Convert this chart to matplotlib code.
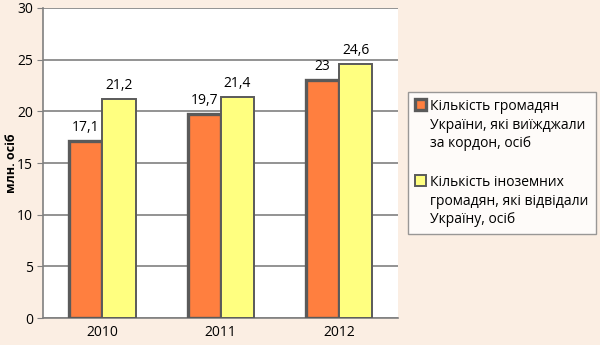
import matplotlib.pyplot as plt
import numpy as np

plt.rcParams['font.family'] = ['Open Sans', 'DejaVu Sans']

years = ['2010', '2011', '2012']
citizens_out = [17.1, 19.7, 23.0]
foreigners_in = [21.2, 21.4, 24.6]
labels_out = ['17,1', '19,7', '23']
labels_in = ['21,2', '21,4', '24,6']
legend_labels = ['Кількість громадян\nУкраїни, які виїжджали\nза кордон, осіб',
                 'Кількість іноземних\nгромадян, які відвідали\nУкраїну, осіб']

bg = '#FBEEE3'
orange = '#FF7F3F'
yellow = '#FFFF80'
grid_gray = '#808080'

fig = plt.figure(figsize=(6, 3.45), dpi=100, facecolor=bg)
ax = fig.add_axes([0.072, 0.078, 0.592, 0.899])
ax.set_facecolor('white')

x = np.arange(len(years))
w = 0.28
b1 = ax.bar(x - w / 2, citizens_out, w, color=orange, edgecolor='#5a5a5a', linewidth=2.4,
            label=legend_labels[0], zorder=3)
b2 = ax.bar(x + w / 2, foreigners_in, w, color=yellow, edgecolor='#5a5a5a', linewidth=1.4,
            label=legend_labels[1], zorder=3)

for bar, t in zip(b1, labels_out):
    ax.text(bar.get_x() + bar.get_width() / 2, bar.get_height() + 0.6, t,
            ha='center', va='bottom', fontsize=10, color='black')
for bar, t in zip(b2, labels_in):
    ax.text(bar.get_x() + bar.get_width() / 2, bar.get_height() + 0.6, t,
            ha='center', va='bottom', fontsize=10, color='black')

ax.set_xlim(-0.5, 2.5)
ax.set_ylim(0, 30)
ax.set_yticks(range(0, 31, 5))
ax.set_xticks(x)
ax.set_xticklabels(years)
ax.tick_params(axis='both', labelsize=10, color=grid_gray, length=4)
ax.tick_params(axis='x', length=0, pad=5)
ax.yaxis.grid(True, color=grid_gray, linewidth=1.2, zorder=0)
ax.set_axisbelow(True)
for s in ['top', 'right']:
    ax.spines[s].set_visible(False)
for s in ['left', 'bottom']:
    ax.spines[s].set_color(grid_gray)
    ax.spines[s].set_linewidth(1.2)
ax.set_ylabel('млн. осіб', fontsize=9, fontweight='bold')
ax.yaxis.set_label_coords(-0.072, 0.5)

leg = fig.legend(loc='upper left', bbox_to_anchor=(0.68, 0.733), fontsize=10,
                 frameon=True, fancybox=False, edgecolor='#808080', facecolor='white',
                 handlelength=0.8, handleheight=0.8, handletextpad=0.3,
                 labelspacing=1.7, borderpad=0.5, borderaxespad=0)
leg.get_frame().set_linewidth(1.0)
for t in leg.get_texts():
    t.set_linespacing(1.33)
# put the colour box next to the first line of each label
for hp in leg._legend_handle_box.get_children()[0].get_children():
    hp.align = 'top'

plt.savefig('out.png', dpi=100, facecolor=bg)
